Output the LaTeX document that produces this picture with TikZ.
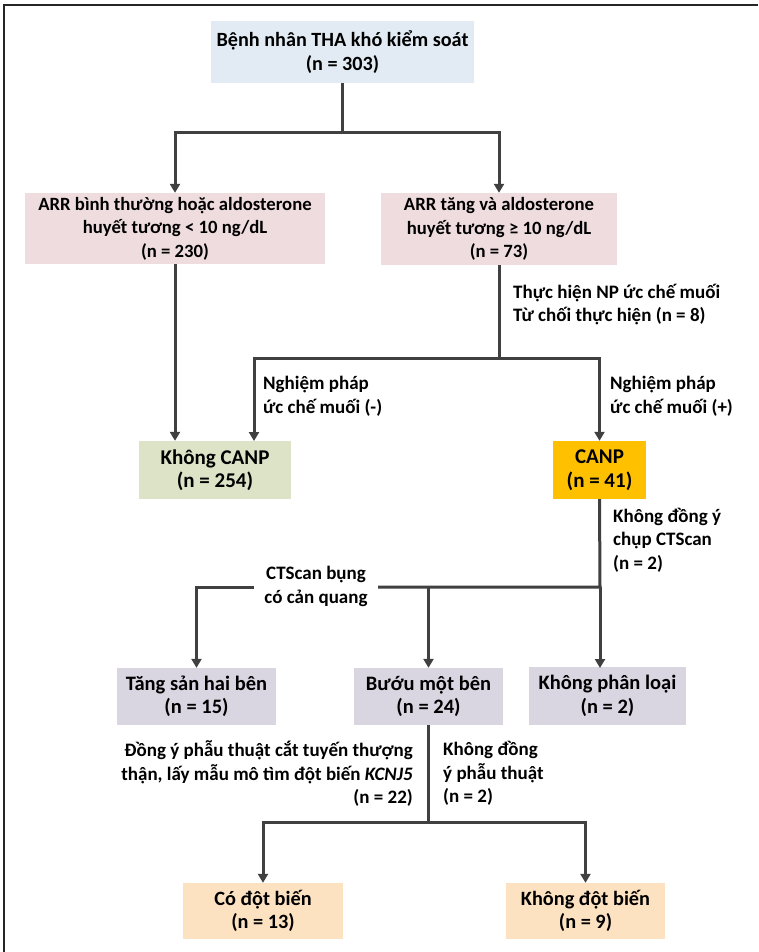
\documentclass[tikz,border=0pt]{standalone}
\usepackage{fontspec}
\setmainfont{Carlito}
\usetikzlibrary{arrows.meta}
\definecolor{ln}{HTML}{404040}
\definecolor{cblue}{HTML}{E2EBF4}
\definecolor{cpink}{HTML}{EFDCDF}
\definecolor{cgreen}{HTML}{DCE3C6}
\definecolor{corange}{HTML}{FFC000}
\definecolor{clav}{HTML}{D9D5E1}
\definecolor{cpeach}{HTML}{FDE2C2}
\begin{document}
\begin{tikzpicture}[x=1pt,y=-1pt,
  txt/.style={font=\bfseries\fontsize{#1}{23.5}\selectfont, text=black},
  txt/.default=19,
  box/.style={txt=#1, draw=none, inner sep=0pt, align=center},
  box/.default=20.5,
  lbl/.style={txt=19, inner sep=0pt},
  conn/.style={draw=ln, line width=3pt},
  arr/.style={conn, -{Triangle[length=9pt,width=10pt]}}]
\useasboundingbox (0,0) rectangle (758,952);
\fill[white] (0,0) rectangle (758,952);
% frame (cropped: only top and left visible)
\draw[line width=2.5pt, black!85] (4,952) -- (4,5) -- (758,5);

% boxes
\node[box=20.2, fill=cblue, minimum width=263pt, minimum height=62pt] (top) at (342.5,52) {Bệnh nhân THA khó kiểm soát\\(n = 303)};
\node[box=18.7, fill=cpink, minimum width=300pt, minimum height=71pt] (arrL) at (175,228.5) {ARR bình thường hoặc aldosterone\\huyết tương < 10 ng/dL\\(n = 230)};
\node[box=18.7, fill=cpink, minimum width=236pt, minimum height=72pt] (arrR) at (499,229) {ARR tăng và aldosterone\\huyết tương ≥ 10 ng/dL\\(n = 73)};
\node[box=21, fill=cgreen, minimum width=152pt, minimum height=58pt] (noCANP) at (215,470) {Không CANP\\(n = 254)};
\node[box=21, fill=corange, minimum width=93pt, minimum height=58pt] (CANP) at (599.5,470) {CANP\\(n = 41)};
\node[box=20.5, fill=clav, minimum width=159pt, minimum height=57pt] (tang) at (196.5,696.5) {Tăng sản hai bên\\(n = 15)};
\node[box=20.5, fill=clav, minimum width=149pt, minimum height=57pt] (buou) at (428.5,696.5) {Bướu một bên\\(n = 24)};
\node[box=20.5, fill=clav, minimum width=157pt, minimum height=58pt] (khongPL) at (607.5,696) {Không phân loại\\(n = 2)};
\node[box=20.3, fill=cpeach, minimum width=160pt, minimum height=56pt] (codb) at (263,911) {Có đột biến\\(n = 13)};
\node[box=20.3, fill=cpeach, minimum width=159pt, minimum height=56pt] (khongdb) at (585.5,911) {Không đột biến\\(n = 9)};

% junction coordinates
\coordinate (j1) at (342.5,133);
\coordinate (j2) at (499,358);
\coordinate (nL) at (254,441);
\coordinate (j3) at (600,587);
\coordinate (gR) at (378,587);
\coordinate (gL) at (254,587);
\coordinate (pl) at (600,668);
\coordinate (j4) at (428.5,822);

% connectors
\draw[conn] (top.south) -- (j1);
\draw[arr] (j1) -| (arrL.north);
\draw[arr] (j1) -| (arrR.north);
\draw[arr] (arrL.south) -- (arrL.south |- noCANP.north);
\draw[conn] (arrR.south) -- (j2);
\draw[arr] (j2) -| (nL);
\draw[arr] (j2) -| (CANP.north);
\draw[conn] (CANP.south) -- (j3) -- (gR);
\draw[arr] (gL) -| (tang.north);
\draw[arr] (j3) -- (pl);
\draw[arr] (j3 -| buou.north) -- (buou.north);
\draw[conn] (buou.south) -- (j4);
\draw[arr] (j4) -| (codb.north);
\draw[arr] (j4) -| (khongdb.north);

% labels
\node[lbl, anchor=west, align=left] (l1) at (513,304.5) {Thực hiện NP ức chế muối\\Từ chối thực hiện (n = 8)};
\node[lbl, anchor=west, align=left] (l2) at (263,396.5) {Nghiệm pháp\\ức chế muối (-)};
\node[lbl, anchor=west, align=left] (l3) at (610,396.5) {Nghiệm pháp\\ức chế muối (+)};
\node[lbl, anchor=west, align=left] (l4) at (613,540) {Không đồng ý\\chụp CTScan\\(n = 2)};
\node[lbl, align=center] (l5) at (316,586.5) {CTScan bụng\\có cản quang};
\node[lbl, anchor=east, align=right] (l6) at (413,773.5) {Đồng ý phẫu thuật cắt tuyến thượng\\thận, lấy mẫu mô tìm đột biến \textit{KCNJ5}\\(n = 22)};
\node[lbl, anchor=west, align=left] (l7) at (443,773.5) {Không đồng\\ý phẫu thuật\\(n = 2)};
\end{tikzpicture}
\end{document}
